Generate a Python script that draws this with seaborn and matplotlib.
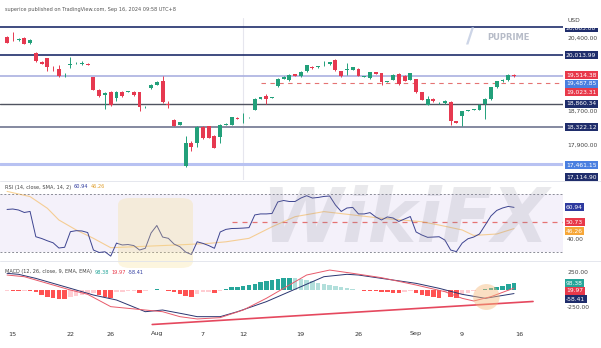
import numpy as np
import pandas as pd
import matplotlib
matplotlib.use("Agg")
import matplotlib.pyplot as plt
import matplotlib.transforms as mtrans
from matplotlib.patches import Ellipse, FancyBboxPatch, Rectangle
import seaborn as sns

# ---------------- data ----------------
opens = [20425,20370,20360,20402,20286,20053,19851,19928,19710,19688,
         19515,19765,19815,19800,19800,19486,19200,19067,19137,18997,
         19153,19155,19146,19137,18790,19239,19316,19409,18855,18502,
         18379,17415,17960,17944,18332,18346,18113,18100,18379,18386,
         18548,18550,18550,18734,18990,19044,19015,19276,19455,19416,
         19555,19509,19625,19728,19718,19815,19797,19897,19625,19660,
         19665,19681,19505,19462,19602,19588,19380,19432,19572,19525,
         19432,19448,19137,18851,18990,18885,18890,18913,18462,18579,
         18705,18728,18734,18874,18983,19253,19402,19416,19549]
closes = [20300,20355,20365,20277,20363,19858,19811,19718,19700,19525,
          19530,19811,19825,19808,19775,19200,19044,19123,18851,19153,
          19044,19165,19067,18797,18805,19316,19379,18904,18850,18362,
          18439,17960,17867,18323,18067,18076,17844,18386,18402,18555,
          18525,18560,18558,18983,19020,18990,19025,19455,19495,19549,
          19525,19611,19765,19695,19742,19825,19835,19649,19509,19670,
          19718,19525,19512,19602,19572,19369,19390,19549,19339,19409,
          19588,19137,18967,18990,18927,18895,18944,18478,18425,18695,
          18715,18738,18851,18983,19253,19393,19432,19549,19514]
highs = [20450,20556,20400,20420,20380,20075,19870,19950,19758,19781,
         19588,19974,19840,19881,19815,19500,19215,19140,19160,19170,
         19170,19180,19160,19150,18820,19330,19395,19525,18944,18520,
         18455,18113,17990,18340,18350,18360,18130,18400,18415,18570,
         18560,18658,18570,18995,19035,19107,19040,19470,19510,19565,
         19570,19625,19780,19745,19755,19881,19850,19920,19640,19821,
         19735,19695,19525,19615,19615,19600,19405,19565,19590,19540,
         19600,19460,19150,19060,19005,18910,18960,18930,18475,18710,
         18730,18750,18865,18995,19265,19405,19445,19565,19560]
lows = [20280,20340,20330,20260,20270,19840,19795,19625,19625,19505,
        19505,19711,19800,19785,19765,19185,19030,18758,18830,18927,
        19030,19140,19055,18711,18780,19225,19300,18890,18775,18345,
        18365,17405,17765,17851,18050,18060,17830,17960,18365,18370,
        18510,18425,18540,18720,18975,18867,19005,19260,19440,19400,
        19510,19495,19610,19680,19705,19742,19785,19635,19495,19549,
        19650,19510,19495,19450,19560,19300,19370,19420,19300,19395,
        19420,19120,18955,18840,18915,18875,18875,18386,18410,18346,
        18695,18720,18720,18518,18970,19240,19390,19400,19505]

rsi_values = [59.5,59.8,59.1,57.4,58.1,40.6,39.4,37.8,36.4,32.8,
              33.3,44.1,44.8,44.6,43.5,31.4,29.7,30.2,27.2,36.2,
              34.9,35.2,34.5,31.4,32.6,43.2,48.4,40.4,39.5,35.5,
              33.7,30.0,28.3,37.1,36.0,34.5,32.6,43.9,45.7,46.3,
              46.4,46.6,46.9,55.7,56.4,56.4,56.7,64.7,65.7,65.0,
              65.0,67.4,69.0,67.4,67.8,68.5,68.8,62.6,58.1,60.5,
              60.9,56.4,56.4,57.3,54.3,52.2,54.3,53.6,51.2,52.9,
              54.6,43.9,41.8,40.2,40.4,40.6,38.3,31.4,30.3,36.2,
              39.2,40.4,42.5,48.7,55.0,58.8,60.5,61.6,60.94]
rsi_sma_idx = [0, 4, 7, 9, 12, 15, 18, 24, 30, 35, 38, 42, 46, 50, 55, 60, 65, 72, 75, 79, 81, 85, 88]
rsi_sma_val = [72, 68.4, 60.3, 52.2, 45.3, 39.5, 33, 34, 35, 36, 37.1, 39.5, 47.5, 54.5, 58, 55.7, 53.4, 51, 48.7, 45.3, 41.5, 42.5, 46.26]

macd_hist = [-20,-22,-25,-25,-28,-40,-75,-100,-125,-130,
             -135,-110,-95,-80,-60,-50,-80,-105,-120,-40,
             -30,-25,-22,-50,-20,-10,8,-5,-15,-35,
             -60,-90,-110,-60,-40,-30,-50,-20,10,30,
             40,55,65,85,105,125,140,150,160,170,
             165,150,135,115,100,85,70,55,35,18,
             5,-5,-15,-20,-25,-30,-40,-50,-55,-30,
             -20,-50,-75,-95,-110,-115,-40,-100,-115,-70,
             -45,-25,-10,10,20,35,55,75,88]
macd_idx = [0, 3, 7, 11, 14, 18, 21, 24, 27, 30, 33, 37, 41, 45, 49, 52, 56, 60, 65, 71, 76, 79, 81, 84, 88]
macd_val = [207, 183, 88, -7, -69, -245, -269, -293, -317, -388, -421, -402, -293, -126, 64, 207, 278, 231, 169, 64, -31, -126, -164, -102, 20]
signal_idx = [0, 2, 5, 11, 15, 19, 24, 27, 31, 33, 37, 40, 45, 51, 55, 59, 61, 65, 71, 75, 79, 83, 88]
signal_val = [231, 217, 159, 17, -79, -150, -317, -293, -355, -388, -388, -317, -174, 40, 183, 217, 207, 159, 88, 17, -69, -126, -58]

date_tick_idx = [1, 11, 18, 26, 34, 41, 51, 61, 71, 79, 89]
date_tick_lab = ['15', '22', '26', 'Aug', '7', '12', '19', '26', 'Sep', '9', '16']

level_prices = [20665, 20013.99, 19514.38, 18860.34, 18322.12, 17461.15]
level_colors = ['#1f2d6b', '#1f2d6b', '#aab0e0', '#505360', '#7b8098', '#b8c2f2']
level_widths = [1.2, 1.2, 1.2, 1.0, 1.3, 2.2]
dashed_price = 19350

price_axis_vals = [20400, 18700, 17900]
price_axis_labs = ['20,400.00', '18,700.00', '17,900.00']
# badge (anchor value, text, colour)
price_badges = [(20640, '20,665.00', '#1f2d6b'), (20014, '20,013.99', '#1f2d6b'),
                (19537, '19,514.38', '#e8394a'), (19339, '19,487.85', '#4a7fe0'),
                (19141, '19,023.31', '#e8394a'), (18874, '18,860.34', '#1f2d6b'),
                (18323, '18,322.12', '#1f2d6b'), (17432, '17,461.15', '#4a7fe0'),
                (17165, '17,114.90', '#1f2d6b')]
rsi_badges = [(61.0, '60.94', '#2e3a9f'), (50.6, '50.73', '#e8394a'), (44.4, '46.26', '#f7a738')]
macd_badges = [(89, '98.38', '#26a69a'), (-17, '19.97', '#e8394a'), (-136, '-58.41', '#1f2d6b')]

UP = '#22a07a'
DOWN = '#e63950'

# ---------------- figure ----------------
sns.set_theme(style="white")
plt.rcParams['font.family'] = ['DejaVu Sans']
W, H = 601, 348
fig = plt.figure(figsize=(W / 100, H / 100), dpi=100)
fig.patch.set_facecolor('white')

def box(y0, y1, x1=563):
    return [0, 1 - y1 / H, x1 / W, (y1 - y0) / H]

axp = fig.add_axes(box(18, 180))
axr = fig.add_axes(box(182, 260))
axm = fig.add_axes(box(262, 328))
for ax in (axp, axr, axm):
    ax.set_xlim(-1.22, 96.5)
    ax.set_facecolor('white')
    for s in ax.spines.values():
        s.set_visible(False)
    ax.set_xticks([])
    ax.set_yticks([])

n = len(opens)
idx = np.arange(n)
o = np.array(opens); c = np.array(closes); hi = np.array(highs); lo = np.array(lows)
up = c >= o
colors = np.where(up, UP, DOWN)

# price panel
axp.set_ylim(17090, 20874)
for p, col, lw in zip(level_prices, level_colors, level_widths):
    axp.axhline(p, color=col, lw=lw, zorder=1)
axp.hlines(dashed_price, 44, 96.5, colors='#e57373', linestyles=(0, (4, 4)), lw=0.8, zorder=1)
axp.axvline(41, color='#e6e6ee', lw=0.8, zorder=0)
axp.vlines(idx, lo, hi, colors=colors, lw=0.7, zorder=2)
body_bottom = np.minimum(o, c)
body_h = np.maximum(np.abs(c - o), 12)
axp.bar(idx, body_h, bottom=body_bottom, width=0.68, color=colors, zorder=3, linewidth=0)

# RSI panel
axr.set_ylim(24.5, 78.5)
axr.axhspan(30, 70, color='#7e57c2', alpha=0.08, lw=0)
axr.axhline(70, color='#8a8c96', lw=0.7, ls=(0, (2, 2)))
axr.axhline(30, color='#8a8c96', lw=0.7, ls=(0, (2, 2)))
axr.hlines(50.73, 39, 96.5, colors='#e57373', linestyles=(0, (4, 4)), lw=0.9)
sns.lineplot(x=rsi_sma_idx, y=rsi_sma_val, ax=axr, color='#f5b041', lw=0.8, alpha=0.55)
sns.lineplot(x=idx, y=rsi_values, ax=axr, color='#3d4490', lw=0.7)

# MACD panel
axm.set_ylim(-550, 393)
hist = np.array(macd_hist)
prev = np.concatenate([[hist[0]], hist[:-1]])
hcol = []
for h, pv in zip(hist, prev):
    if h >= 0:
        hcol.append('#26a69a' if h >= pv else '#b2dfdb')
    else:
        hcol.append('#ffcdd2' if h >= pv else '#ff5252')
axm.bar(idx, hist, width=0.78, color=hcol, lw=0)
sns.lineplot(x=signal_idx, y=signal_val, ax=axm, color='#2a3570', lw=0.7)
sns.lineplot(x=macd_idx, y=macd_val, ax=axm, color='#e85a6a', lw=0.7)
axm.plot([25.2, 91.3], [-500, -171], color='#e5485e', lw=1.2, clip_on=False)
axm.add_patch(Ellipse((83.2, -107), 4.6, 370, color='#f5b97a', alpha=0.45, lw=0, zorder=5))

for ax in (axr, axm):
    ax.set_xlabel(''); ax.set_ylabel('')
    if ax.get_legend():
        ax.get_legend().remove()

# separators
for yy in (181, 261):
    fig.add_artist(plt.Line2D([0, 1], [1 - yy / H] * 2, color='#e0e3eb', lw=0.6))

# right axis labels
FS = 4.3
def plain(ax, v, t):
    tr = mtrans.blended_transform_factory(fig.transFigure, ax.transData)
    ax.text(567 / W, v, t, transform=tr, fontsize=FS, color='#444', va='center', ha='left', clip_on=False)

def badge(ax, v, t, col):
    tr = mtrans.blended_transform_factory(fig.transFigure, ax.transData)
    ax.text(566 / W, v, t, transform=tr, fontsize=FS, color='white', va='center', ha='left', clip_on=False,
            bbox=dict(boxstyle='square,pad=0.25', fc=col, ec='none'), zorder=6)

for v, t in zip(price_axis_vals, price_axis_labs):
    plain(axp, v, t)
for v, t, col in price_badges:
    badge(axp, v, t, col)
# USD header box partly hides the top badge
fig.add_artist(Rectangle((563 / W, 1 - 28 / H), 38 / W, 16 / H, transform=fig.transFigure,
                         fc='white', ec='none', zorder=10))
fig.text(567 / W, 1 - 21 / H, 'USD', fontsize=FS, color='#444', va='center', ha='left', zorder=11)

plain(axr, 39.0, '40.00')
for v, t, col in rsi_badges:
    badge(axr, v, t, col)
plain(axm, 250, '250.00')
plain(axm, -254, '-250.00')
for v, t, col in macd_badges:
    badge(axm, v, t, col)

# x-axis labels
trx = mtrans.blended_transform_factory(axm.transData, fig.transFigure)
for i, t in zip(date_tick_idx, date_tick_lab):
    axm.text(i, 1 - 334 / H, t, transform=trx, fontsize=4.6, color='#333', ha='center', va='center', clip_on=False)

# headers
renderer = fig.canvas.get_renderer()
def seq(x_px, y_px, parts, fs=3.6):
    x = x_px
    for t, col in parts:
        tx = fig.text(x / W, 1 - y_px / H, t, fontsize=fs, color=col, va='center', ha='left')
        bb = tx.get_window_extent(renderer)
        x = bb.x1 + 2.5

fig.text(5 / W, 1 - 10 / H, 'superice published on TradingView.com, Sep 16, 2024 09:58 UTC+8',
         fontsize=3.6, color='#555', va='center')
seq(5, 187, [('RSI (14, close, SMA, 14, 2)', '#444'), ('60.94', '#2e3a9f'), ('46.26', '#e0a030')])
seq(5, 272, [('MACD (12, 26, close, 9, EMA, EMA)', '#444'), ('98.38', '#26a69a'),
             ('19.97', '#e8394a'), ('-58.41', '#2e3a9f')])

# watermarks
fig.text(470 / W, 1 - 36 / H, '/', fontsize=16, color='#b8c4dd', alpha=0.7, va='center', ha='center', fontweight='bold')
fig.text(487 / W, 1 - 37 / H, 'PUPRIME', fontsize=6, color='#b7bcc8', va='center', ha='left', fontweight='bold')
fig.add_artist(FancyBboxPatch((118 / W, 1 - 268 / H), 75 / W, 70 / H, boxstyle='round,pad=0.0,rounding_size=0.02',
                              fc='#f6dd8a', ec='none', alpha=0.28, transform=fig.transFigure))
fig.text(405 / W, 1 - 222 / H, 'WikiFX', fontsize=53, color='#8a8a9a', alpha=0.18, va='center', ha='center',
         fontweight='bold', style='italic')

fig.savefig('out.png', dpi=100, facecolor='white')
